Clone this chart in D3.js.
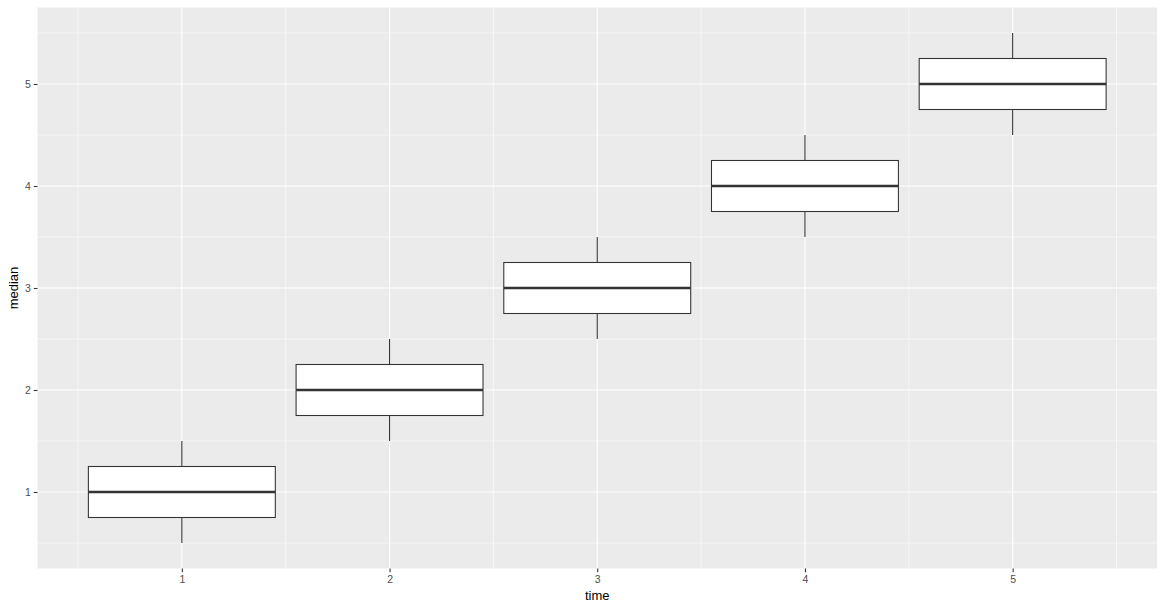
<!DOCTYPE html>
<html><head><meta charset="utf-8">
<script src="https://cdn.jsdelivr.net/npm/d3@7"></script>
<style>body{margin:0;background:#fff}svg{display:block}</style>
</head><body>
<svg id="c" width="1164" height="610"></svg>
<script>
const time = [1, 2, 3, 4, 5];
const ymin = [0.5, 1.5, 2.5, 3.5, 4.5];
const lower = [0.75, 1.75, 2.75, 3.75, 4.75];
const middle = [1, 2, 3, 4, 5];
const upper = [1.25, 2.25, 3.25, 4.25, 5.25];
const ymax = [1.5, 2.5, 3.5, 4.5, 5.5];
const xTicks = [1, 2, 3, 4, 5];
const yTicks = [1, 2, 3, 4, 5];
const xMinor = [0.5, 1.5, 2.5, 3.5, 4.5, 5.5];
const yMinor = [0.5, 1.5, 2.5, 3.5, 4.5, 5.5];
const boxWidth = 0.9;

const L = 37.5, R = 1157, T = 7.5, B = 568.5;
const svg = d3.select("#c");
const x = d3.scaleLinear().domain([0.305, 5.695]).range([L, R]);
const y = d3.scaleLinear().domain([0.25, 5.75]).range([B, T]);

svg.append("rect").attr("x", L).attr("y", T).attr("width", R - L).attr("height", B - T).attr("fill", "#EBEBEB");
const g = svg.append("g");
g.selectAll(".xm").data(xMinor).join("line").attr("x1", d => x(d)).attr("x2", d => x(d)).attr("y1", T).attr("y2", B).attr("stroke", "#fff").attr("stroke-width", 0.55);
g.selectAll(".ym").data(yMinor).join("line").attr("y1", d => y(d)).attr("y2", d => y(d)).attr("x1", L).attr("x2", R).attr("stroke", "#fff").attr("stroke-width", 0.55);
g.selectAll(".xM").data(xTicks).join("line").attr("x1", d => x(d)).attr("x2", d => x(d)).attr("y1", T).attr("y2", B).attr("stroke", "#fff").attr("stroke-width", 1.1);
g.selectAll(".yM").data(yTicks).join("line").attr("y1", d => y(d)).attr("y2", d => y(d)).attr("x1", L).attr("x2", R).attr("stroke", "#fff").attr("stroke-width", 1.1);

const data = time.map((t, i) => ({t, ymin: ymin[i], lower: lower[i], middle: middle[i], upper: upper[i], ymax: ymax[i]}));
const bx = svg.append("g").selectAll("g").data(data).join("g");
bx.append("line").attr("x1", d => x(d.t)).attr("x2", d => x(d.t)).attr("y1", d => y(d.upper)).attr("y2", d => y(d.ymax)).attr("stroke", "#333").attr("stroke-width", 1.07);
bx.append("line").attr("x1", d => x(d.t)).attr("x2", d => x(d.t)).attr("y1", d => y(d.lower)).attr("y2", d => y(d.ymin)).attr("stroke", "#333").attr("stroke-width", 1.07);
bx.append("rect").attr("x", d => x(d.t - boxWidth / 2)).attr("width", d => x(d.t + boxWidth / 2) - x(d.t - boxWidth / 2))
  .attr("y", d => y(d.upper)).attr("height", d => y(d.lower) - y(d.upper)).attr("fill", "#fff").attr("stroke", "#333").attr("stroke-width", 1.07);
bx.append("line").attr("x1", d => x(d.t - boxWidth / 2)).attr("x2", d => x(d.t + boxWidth / 2)).attr("y1", d => y(d.middle)).attr("y2", d => y(d.middle)).attr("stroke", "#333").attr("stroke-width", 2.6);

const xa = svg.append("g").attr("transform", `translate(0,${B})`)
  .call(d3.axisBottom(x).tickValues(xTicks).tickSize(3.7).tickPadding(3).tickFormat(d3.format("d")));
const ya = svg.append("g").attr("transform", `translate(${L},0)`)
  .call(d3.axisLeft(y).tickValues(yTicks).tickSize(3.7).tickPadding(3).tickFormat(d3.format("d")));
[xa, ya].forEach(a => {
  a.select(".domain").remove();
  a.selectAll(".tick line").attr("stroke", "#333").attr("stroke-width", 1.07);
  a.selectAll(".tick text").attr("fill", "#4D4D4D").style("font-family", "Liberation Sans, Arial, sans-serif").style("font-size", "10.5px");
});
svg.append("text").attr("x", (L + R) / 2).attr("y", 600).attr("text-anchor", "middle")
  .style("font-family", "Liberation Sans, Arial, sans-serif").style("font-size", "13px").text("time");
svg.append("text").attr("transform", `translate(18,${(T + B) / 2}) rotate(-90)`).attr("text-anchor", "middle")
  .style("font-family", "Liberation Sans, Arial, sans-serif").style("font-size", "13px").text("median");
</script>
</body></html>
